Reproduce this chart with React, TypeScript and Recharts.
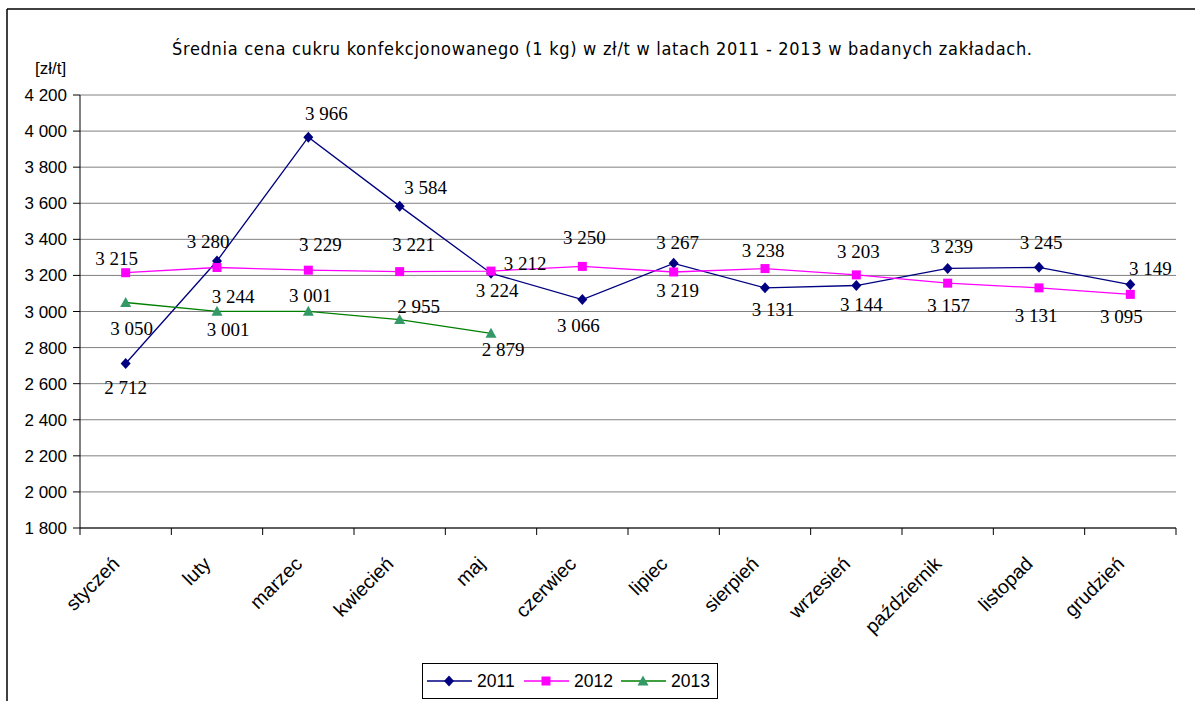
import { LineChart, Line, XAxis, YAxis, CartesianGrid, LabelList } from 'recharts'

const months = [
  'styczeń',
  'luty',
  'marzec',
  'kwiecień',
  'maj',
  'czerwiec',
  'lipiec',
  'sierpień',
  'wrzesień',
  'październik',
  'listopad',
  'grudzień',
]
const values2011 = [2712, 3280, 3966, 3584, 3212, 3066, 3267, 3131, 3144, 3239, 3245, 3149]
const values2012 = [3215, 3244, 3229, 3221, 3224, 3250, 3219, 3238, 3203, 3157, 3131, 3095]
const values2013 = [3050, 3001, 3001, 2955, 2879, null, null, null, null, null, null, null]
const yTicks = [1800, 2000, 2200, 2400, 2600, 2800, 3000, 3200, 3400, 3600, 3800, 4000, 4200]

// where each data label sits relative to its point (dx, dy)
const labelPos2011 = [
  [0, 24], [-9, -19], [18, -24], [26, -19], [34, -10], [-4, 26],
  [4, -21], [8, 22], [5, 19], [4, -22], [2, -25], [20, -16],
]
const labelPos2012 = [
  [-9, -14], [16, 29], [12, -26], [14, -27], [6, 19], [2, -29],
  [4, 19], [-2, -18], [2, -23], [1, 22], [-3, 28], [-9, 22],
]
const labelPos2013 = [
  [6, 26], [11, 18], [2, -16], [19, -13], [12, 16],
  [0, 0], [0, 0], [0, 0], [0, 0], [0, 0], [0, 0], [0, 0],
]

const data = months.map((m, i) => ({
  month: m,
  y2011: values2011[i],
  y2012: values2012[i],
  y2013: values2013[i],
}))

const fmt = (v: number) => String(v).replace(/\B(?=(\d{3})+(?!\d))/g, ' ')

const BAND = 1096 / 12
const SANS = "'Liberation Sans', Arial, sans-serif"
const SERIF = "'Liberation Serif', 'Times New Roman', serif"

const NAVY = '#000080'
const PINK = '#FF00FF'
const GREEN = '#008000'
const GREEN_MARK = '#339966'

function MonthTick(props: any) {
  const { x, y, payload } = props
  const last = payload.value === months[months.length - 1]
  const tx = x - 5
  const ty = y + 37
  return (
    <g>
      <line x1={x - BAND / 2} y1={y} x2={x - BAND / 2} y2={y + 7} stroke="#000" />
      {last && <line x1={x + BAND / 2} y1={y} x2={x + BAND / 2} y2={y + 7} stroke="#000" />}
      <text
        x={tx}
        y={ty}
        textAnchor="end"
        transform={`rotate(-45 ${tx} ${ty})`}
        fontSize={19.5}
        fontFamily={SANS}
        fill="#000"
      >
        {payload.value}
      </text>
    </g>
  )
}

const diamond = (cx: number, cy: number, fill: string) => (
  <path d={`M${cx},${cy - 5.5}L${cx + 5},${cy}L${cx},${cy + 5.5}L${cx - 5},${cy}Z`} fill={fill} />
)
const square = (cx: number, cy: number, fill: string) => (
  <rect x={cx - 4.5} y={cy - 4.5} width={9} height={9} fill={fill} />
)
const triangle = (cx: number, cy: number, fill: string) => (
  <path d={`M${cx},${cy - 5.5}L${cx + 5.5},${cy + 4.5}L${cx - 5.5},${cy + 4.5}Z`} fill={fill} />
)

const makeDot = (shape: typeof diamond, fill: string) => (p: any) => {
  if (p.cx == null || p.cy == null || p.value == null) return <g key={p.index} />
  return <g key={p.index}>{shape(p.cx, p.cy, fill)}</g>
}

const makeLabel = (pos: number[][]) => (p: any) => {
  const { x, y, value, index } = p
  if (value == null || x == null || y == null) return null
  const [dx, dy] = pos[index]
  return (
    <text
      key={index}
      x={x + dx}
      y={y + dy}
      dy="0.34em"
      textAnchor="middle"
      fontFamily={SERIF}
      fontSize={19}
      fill="#000"
    >
      {fmt(value)}
    </text>
  )
}

function Overlay() {
  const items = [
    { name: '2011', color: NAVY, mark: diamond(449, 681, NAVY), x: 427 },
    { name: '2012', color: PINK, mark: square(546, 681, PINK), x: 524 },
    { name: '2013', color: GREEN, mark: triangle(643, 681, GREEN_MARK), x: 621 },
  ]
  return (
    <svg
      width={1195}
      height={701}
      style={{ position: 'absolute', left: 0, top: 0, pointerEvents: 'none' }}
    >
      <line x1={7} y1={9} x2={1195} y2={9} stroke="#000" strokeWidth={1.5} />
      <line x1={7} y1={9} x2={7} y2={701} stroke="#000" strokeWidth={1.5} />
      <text
        x={602}
        y={55}
        textAnchor="middle"
        fontSize={18}
        fontFamily="'Liberation Sans Narrow', 'DejaVu Sans Condensed', Arial, sans-serif"
        textLength={860}
        lengthAdjust="spacing"
        fill="#000"
      >
        Średnia cena cukru konfekcjonowanego (1 kg) w zł/t w latach 2011 - 2013  w badanych zakładach.
      </text>
      <text x={35} y={74} fontSize={17} fontFamily={SANS} fill="#000">
        [zł/t]
      </text>
      <rect x={422.5} y={663.5} width={295} height={35} fill="#fff" stroke="#000" />
      {items.map((it) => (
        <g key={it.name}>
          <line x1={it.x} y1={681} x2={it.x + 45} y2={681} stroke={it.color} strokeWidth={1.5} />
          {it.mark}
          <text x={it.x + 50} y={687} fontSize={17.5} fontFamily={SANS} fill="#000">
            {it.name}
          </text>
        </g>
      ))}
    </svg>
  )
}

export default function App() {
  return (
    <div
      style={{
        position: 'absolute',
        left: 0,
        top: 0,
        width: 1195,
        height: 701,
        background: '#fff',
        overflow: 'hidden',
      }}
    >
      <LineChart width={1195} height={701} data={data} margin={{ top: 95, right: 19, left: 8, bottom: 0 }}>
        <CartesianGrid vertical={false} stroke="#808080" />
        <XAxis
          dataKey="month"
          interval={0}
          height={173}
          padding={{ left: BAND / 2, right: BAND / 2 }}
          tickLine={false}
          tickSize={0}
          tickMargin={0}
          axisLine={{ stroke: '#000' }}
          tick={<MonthTick />}
        />
        <YAxis
          domain={[1800, 4200]}
          ticks={yTicks}
          width={72}
          tickSize={7}
          tickMargin={6}
          tickLine={{ stroke: '#000' }}
          axisLine={{ stroke: '#000' }}
          tickFormatter={fmt}
          tick={{ fill: '#000', fontSize: 17, fontFamily: SANS }}
        />
        <YAxis
          yAxisId="right"
          orientation="right"
          width={0}
          tick={false}
          tickLine={false}
          axisLine={{ stroke: '#808080' }}
        />
        <Line
          type="linear"
          dataKey="y2011"
          stroke={NAVY}
          strokeWidth={1.3}
          dot={makeDot(diamond, NAVY)}
          activeDot={false}
          isAnimationActive={false}
        >
          <LabelList dataKey="y2011" content={makeLabel(labelPos2011)} />
        </Line>
        <Line
          type="linear"
          dataKey="y2012"
          stroke={PINK}
          strokeWidth={1.3}
          dot={makeDot(square, PINK)}
          activeDot={false}
          isAnimationActive={false}
        >
          <LabelList dataKey="y2012" content={makeLabel(labelPos2012)} />
        </Line>
        <Line
          type="linear"
          dataKey="y2013"
          stroke={GREEN}
          strokeWidth={1.3}
          dot={makeDot(triangle, GREEN_MARK)}
          activeDot={false}
          isAnimationActive={false}
        >
          <LabelList dataKey="y2013" content={makeLabel(labelPos2013)} />
        </Line>
      </LineChart>
      <Overlay />
    </div>
  )
}
